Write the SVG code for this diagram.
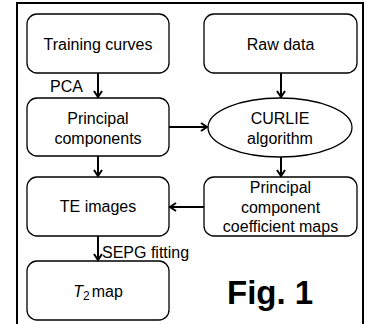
<svg xmlns="http://www.w3.org/2000/svg" width="367" height="324" viewBox="0 0 367 324">
  <defs>
    <marker id="arr" markerWidth="10" markerHeight="10" refX="8" refY="5" orient="auto" markerUnits="userSpaceOnUse">
      <path d="M2,1 L8,5 L2,9" fill="none" stroke="#000" stroke-width="2"/>
    </marker>
    <style>
      .box { fill: #fff; stroke: #000; stroke-width: 1.3; }
      .t { font-family: "Liberation Sans", Arial, sans-serif; font-size: 16px; fill: #000; text-anchor: middle; }
      .lbl { font-family: "Liberation Sans", Arial, sans-serif; font-size: 16px; fill: #000; }
      .c { stroke: #000; stroke-width: 2; fill: none; marker-end: url(#arr); }
    </style>
  </defs>
  <rect width="367" height="324" fill="#fff"/>
  <!-- outer frame -->
  <path d="M17,330 V3 H363 V330" fill="none" stroke="#000" stroke-width="2"/>

  <g id="training">
    <rect class="box" x="27" y="14" width="142" height="59" rx="10"/>
    <text class="t" x="98" y="50">Training curves</text>
  </g>
  <g id="raw">
    <rect class="box" x="204" y="14" width="153" height="59" rx="10"/>
    <text class="t" x="280.5" y="50">Raw data</text>
  </g>
  <g id="pc">
    <rect class="box" x="27" y="98" width="142" height="58" rx="10"/>
    <text class="t" x="98" y="124">Principal</text>
    <text class="t" x="98" y="144">components</text>
  </g>
  <g id="curlie">
    <ellipse class="box" cx="280" cy="127.5" rx="72" ry="29.5"/>
    <text class="t" x="280" y="124">CURLIE</text>
    <text class="t" x="280" y="144">algorithm</text>
  </g>
  <g id="te">
    <rect class="box" x="27" y="177" width="142" height="59" rx="10"/>
    <text class="t" x="98" y="212">TE images</text>
  </g>
  <g id="maps">
    <rect class="box" x="204" y="177" width="153" height="59" rx="10"/>
    <text class="t" x="280.5" y="193">Principal</text>
    <text class="t" x="280.5" y="213">component</text>
    <text class="t" x="280.5" y="232">coefficient maps</text>
  </g>
  <g id="t2">
    <rect class="box" x="27" y="261" width="142" height="59" rx="10"/>
    <text class="t" x="98" y="297"><tspan font-style="italic">T</tspan><tspan font-size="12" dy="3">2</tspan><tspan dx="2" dy="-3">map</tspan></text>
  </g>

  <g id="connectors">
    <line class="c" x1="98" y1="73" x2="98" y2="97"/>
    <line class="c" x1="281" y1="73" x2="281" y2="97"/>
    <line class="c" x1="169" y1="127" x2="207" y2="127"/>
    <line class="c" x1="98" y1="156" x2="98" y2="176"/>
    <line class="c" x1="281" y1="157" x2="281" y2="176"/>
    <line class="c" x1="204" y1="207" x2="170" y2="207"/>
    <line class="c" x1="98" y1="236" x2="98" y2="260"/>
    <text class="lbl" x="50" y="92">PCA</text>
    <text class="lbl" x="102" y="258">SEPG fitting</text>
  </g>

  <text x="227" y="304" font-family="Liberation Sans, Arial, sans-serif" font-size="33" font-weight="bold">Fig. 1</text>
</svg>
